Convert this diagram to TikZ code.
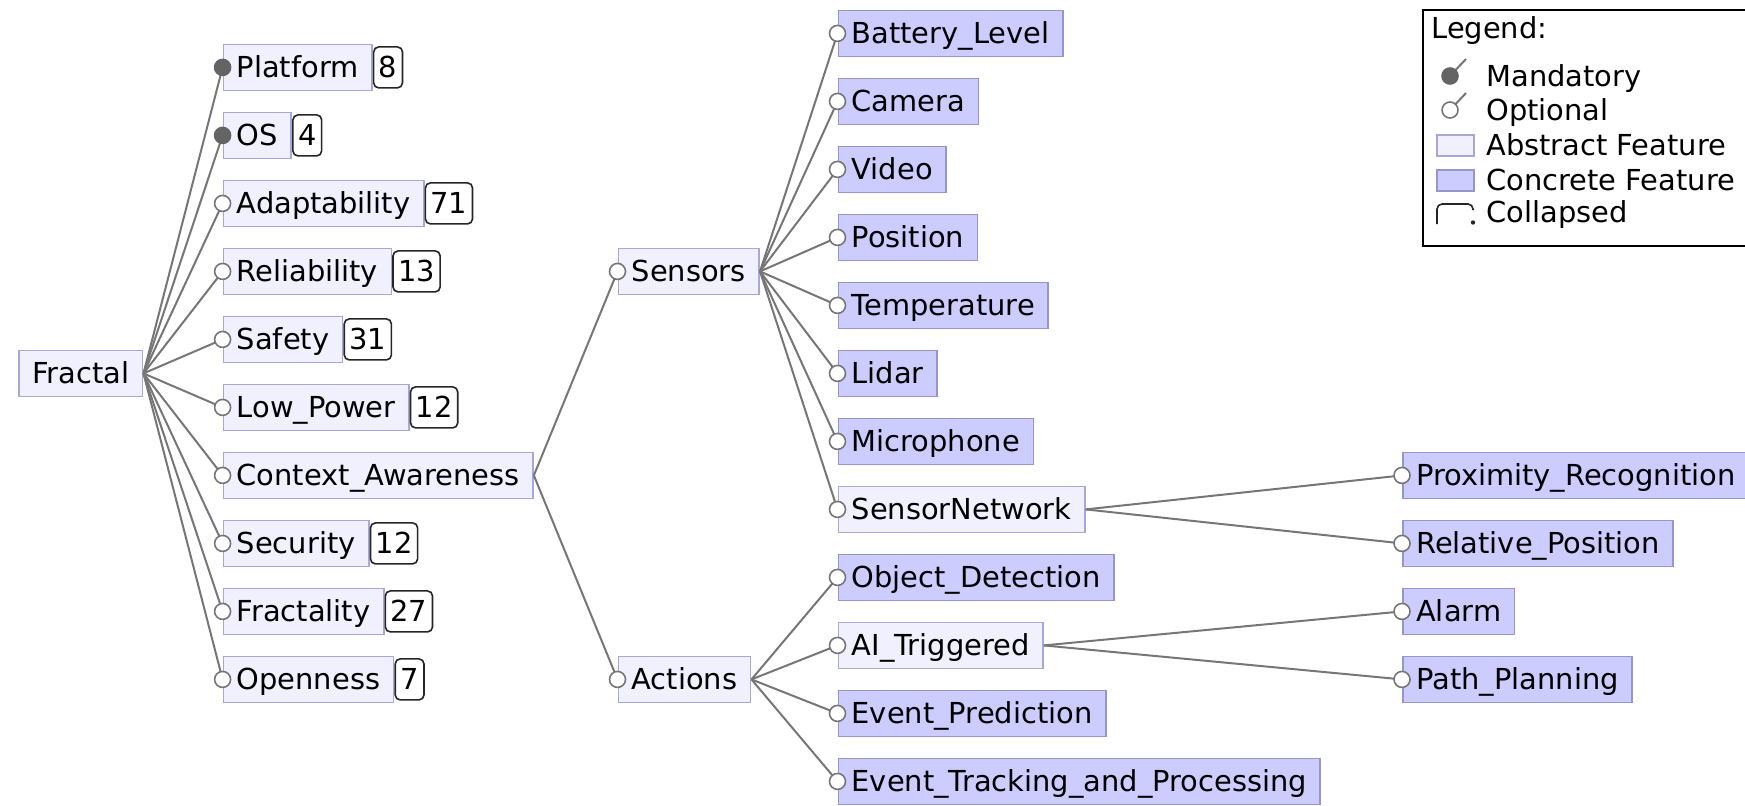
\documentclass[tikz,border=0pt]{standalone}
\usepackage{fontspec}
\setmainfont{DejaVu Sans}
\definecolor{absfill}{RGB}{240,240,255}
\definecolor{absdraw}{RGB}{168,168,214}
\definecolor{confill}{RGB}{204,204,255}
\definecolor{condraw}{RGB}{150,150,205}
\definecolor{edgecol}{RGB}{118,118,118}
\definecolor{mandcol}{RGB}{100,100,100}
\begin{document}
\begin{tikzpicture}[x=0.5pt,y=-0.5pt,
  font=\fontsize{14.45}{17}\selectfont,
  feat/.style={draw, line width=0.8pt, anchor=west, inner xsep=6.7pt, inner ysep=0pt,
    text height=16.5pt, text depth=6.5pt},
  abstract/.style={feat, fill=absfill, draw=absdraw},
  concrete/.style={feat, fill=confill, draw=condraw},
  count/.style={draw=black!85, line width=0.8pt, fill=white, rounded corners=2.5pt,
    anchor=west, inner xsep=2.6pt, inner ysep=0pt, text height=15.25pt, text depth=5.25pt},
  edge/.style={draw=edgecol, line width=1pt},
  optional/.style={circle, draw=edgecol, fill=white, line width=0.8pt, inner sep=0pt, minimum size=8pt},
  mandatory/.style={circle, draw=mandcol, fill=mandcol, line width=0.8pt, inner sep=0pt, minimum size=8pt},
  legtext/.style={anchor=west, inner sep=0pt, text height=16.5pt, text depth=6.5pt},
]
\useasboundingbox (0,0) rectangle (1745,805);
\clip (0,0) rectangle (1745,805);

% root
\node[abstract] (fractal) at (18,373.4) {Fractal};

% first level
\node[abstract] (platform) at (222.6,67.4)  {Platform};
\node[abstract] (os)       at (222.6,135.4) {OS};
\node[abstract] (adapt)    at (222.6,203.4) {Adaptability};
\node[abstract] (reliab)   at (222.6,271.4) {Reliability};
\node[abstract] (safety)   at (222.6,339.4) {Safety};
\node[abstract] (lowpow)   at (222.6,407.4) {Low\_Power};
\node[abstract] (context)  at (222.6,475.4) {Context\_Awareness};
\node[abstract] (security) at (222.6,543.4) {Security};
\node[abstract] (fractality) at (222.6,611.4) {Fractality};
\node[abstract] (openness) at (222.6,679.4) {Openness};

% collapsed subtree sizes
\node[count] (platformc) at (platform.east) {8};
\node[count] (osc)       at (os.east) {4};
\node[count] (adaptc)    at (adapt.east) {71};
\node[count] (reliabc)   at (reliab.east) {13};
\node[count] (safetyc)   at (safety.east) {31};
\node[count] (lowpowc)   at (lowpow.east) {12};
\node[count] (securityc) at (security.east) {12};
\node[count] (fractalityc) at (fractality.east) {27};
\node[count] (opennessc) at (openness.east) {7};

% context awareness
\node[abstract] (sensors) at (617.5,271.4) {Sensors};
\node[abstract] (actions) at (617.5,679.4) {Actions};

\node[concrete] (battery) at (837.5,33.4)  {Battery\_Level};
\node[concrete] (camera)  at (837.5,101.4) {Camera};
\node[concrete] (video)   at (837.5,169.4) {Video};
\node[concrete] (position) at (837.5,237.4) {Position};
\node[concrete] (temp)    at (837.5,305.4) {Temperature};
\node[concrete] (lidar)   at (837.5,373.4) {Lidar};
\node[concrete] (micro)   at (837.5,441.4) {Microphone};
\node[abstract] (sensnet) at (837.5,509.4) {SensorNetwork};
\node[concrete] (objdet)  at (837.5,577.4) {Object\_Detection};
\node[abstract] (aitrig)  at (837.5,645.4) {AI\_Triggered};
\node[concrete] (evpred)  at (837.5,713.4) {Event\_Prediction};
\node[concrete] (evtrack) at (837.5,781.4) {Event\_Tracking\_and\_Processing};

\node[concrete] (proxim)  at (1402,475.4) {Proximity\_Recognition};
\node[concrete] (relpos)  at (1402,543.4) {Relative\_Position};
\node[concrete] (alarm)   at (1402,611.4) {Alarm};
\node[concrete] (path)    at (1402,679.4) {Path\_Planning};

% connectors
\foreach \c in {platform,os,adapt,reliab,safety,lowpow,context,security,fractality,openness}
  \draw[edge] (fractal.east) -- (\c.west);
\foreach \c in {sensors,actions}
  \draw[edge] (context.east) -- (\c.west);
\foreach \c in {battery,camera,video,position,temp,lidar,micro,sensnet}
  \draw[edge] (sensors.east) -- (\c.west);
\foreach \c in {objdet,aitrig,evpred,evtrack}
  \draw[edge] (actions.east) -- (\c.west);
\foreach \c in {proxim,relpos}
  \draw[edge] (sensnet.east) -- (\c.west);
\foreach \c in {alarm,path}
  \draw[edge] (aitrig.east) -- (\c.west);

% relation markers
\node[mandatory] at (platform.west) {};
\node[mandatory] at (os.west) {};
\foreach \c in {adapt,reliab,safety,lowpow,context,security,fractality,openness,
  sensors,actions,battery,camera,video,position,temp,lidar,micro,sensnet,
  objdet,aitrig,evpred,evtrack,proxim,relpos,alarm,path}
  \node[optional] at (\c.west) {};

% legend
\draw[black, line width=1pt] (1760,10) -- (1422.7,10) -- (1422.7,246) -- (1760,246);
\node[legtext] (lgtitle) at (1431,28) {Legend:};
\coordinate (lgm) at (1450,76);
\coordinate (lgmt) at (1466,59);
\draw[edge] (lgm) -- (lgmt);
\node[mandatory] at (lgm) {};
\node[legtext] (lgmand) at (1486,76.5) {Mandatory};
\coordinate (lgo) at (1450,110);
\coordinate (lgot) at (1466,93);
\draw[edge] (lgo) -- (lgot);
\node[optional] at (lgo) {};
\node[legtext] (lgopt) at (1486,110) {Optional};
\draw[absdraw, fill=absfill, line width=0.8pt] (1437,135) rectangle (1474,156);
\node[legtext] (lgabs) at (1486,145.5) {Abstract Feature};
\draw[condraw, fill=confill, line width=0.8pt] (1437,170) rectangle (1474,191);
\node[legtext] (lgcon) at (1486,180.5) {Concrete Feature};
\draw[black!85, line width=0.8pt, rounded corners=2.5pt] (1437,224) -- (1437,204) -- (1473,204) -- (1473,210);
\fill[black!85] (1473,222.5) circle (1.1pt);
\node[legtext] (lgcol) at (1486,212.5) {Collapsed};
\end{tikzpicture}
\end{document}
